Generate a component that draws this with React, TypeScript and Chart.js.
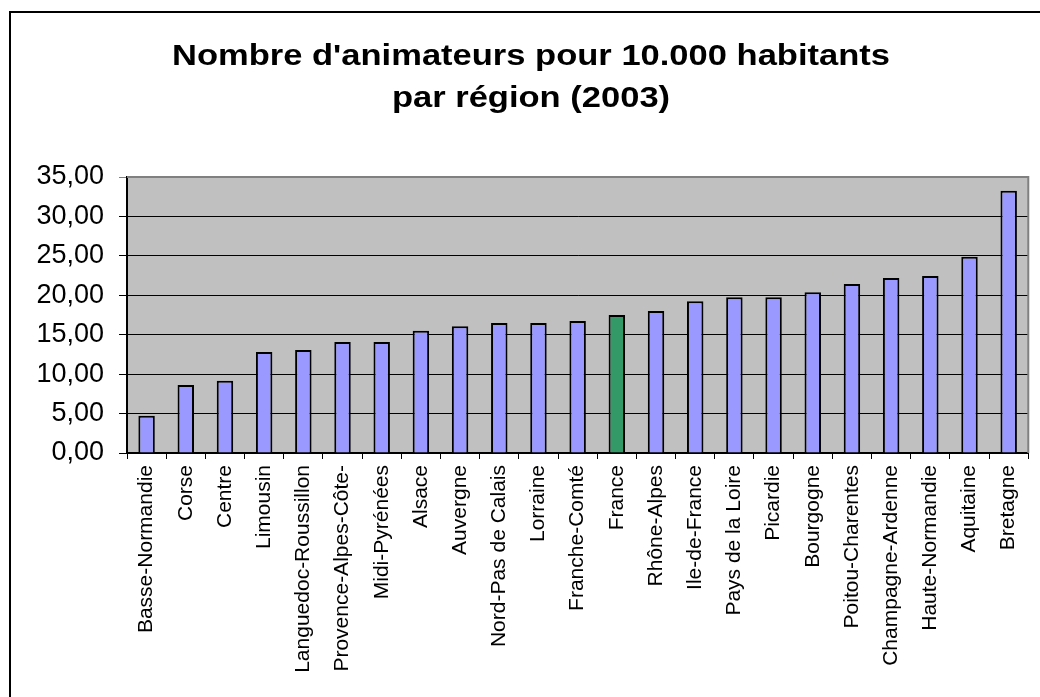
import React, { useEffect, useRef } from "react";
import { Chart, registerables } from "chart.js";

Chart.register(...registerables);

const titleLines = ["Nombre d'animateurs pour 10.000 habitants", "par région (2003)"];

const regions = [
  "Basse-Normandie",
  "Corse",
  "Centre",
  "Limousin",
  "Languedoc-Roussillon",
  "Provence-Alpes-Côte-",
  "Midi-Pyrénées",
  "Alsace",
  "Auvergne",
  "Nord-Pas de Calais",
  "Lorraine",
  "Franche-Comté",
  "France",
  "Rhône-Alpes",
  "Ile-de-France",
  "Pays de la Loire",
  "Picardie",
  "Bourgogne",
  "Poitou-Charentes",
  "Champagne-Ardenne",
  "Haute-Normandie",
  "Aquitaine",
  "Bretagne",
];

const values = [
  4.73, 8.62, 9.17, 12.8, 13.06, 14.07, 14.07, 15.5, 16.06, 16.5, 16.5, 16.74,
  17.5, 18.0, 19.24, 19.74, 19.74, 20.4, 21.43, 22.19, 22.44, 24.9, 33.26,
];

const highlightRegion = "France";
const yMin = 0;
const yMax = 35;
const yStep = 5;

const FONT = "'Liberation Sans', Arial, sans-serif";

const framePlugin = {
  id: "frame",
  beforeDraw(chart: any) {
    const { ctx, chartArea, width, height } = chart;
    ctx.save();
    ctx.fillStyle = "#ffffff";
    ctx.fillRect(0, 0, width, height);
    ctx.fillStyle = "#000000";
    ctx.fillRect(9, 11, width - 9, 2);
    ctx.fillRect(9, 11, 2, height - 11);
    ctx.fillStyle = "#C0C0C0";
    ctx.fillRect(chartArea.left, chartArea.top, chartArea.right - chartArea.left, chartArea.bottom - chartArea.top);
    ctx.restore();
  },
  afterDatasetsDraw(chart: any) {
    const { ctx, chartArea } = chart;
    ctx.save();
    ctx.strokeStyle = "#808080";
    ctx.lineWidth = 2;
    ctx.beginPath();
    ctx.moveTo(chartArea.left, chartArea.top);
    ctx.lineTo(chartArea.right, chartArea.top);
    ctx.lineTo(chartArea.right, chartArea.bottom);
    ctx.stroke();
    ctx.restore();
  },
  afterDraw(chart: any) {
    // Title: wide bold text (the original is horizontally stretched)
    const { ctx } = chart;
    ctx.save();
    ctx.fillStyle = "#000000";
    ctx.font = `bold 30px ${FONT}`;
    ctx.textAlign = "center";
    ctx.textBaseline = "alphabetic";
    const w0 = ctx.measureText(titleLines[0]).width;
    const sx = 718 / w0;
    const cx = 531;
    const baselines = [65, 107];
    titleLines.forEach((line, i) => {
      ctx.save();
      ctx.translate(cx, baselines[i]);
      ctx.scale(sx, 1);
      ctx.fillText(line, 0, 0);
      ctx.restore();
    });
    ctx.restore();
  },
};

export default function App() {
  const ref = useRef<HTMLCanvasElement | null>(null);

  useEffect(() => {
    if (!ref.current) return;
    const chart = new Chart(ref.current, {
      type: "bar",
      data: {
        labels: regions,
        datasets: [
          {
            data: values,
            backgroundColor: regions.map((r) => (r === highlightRegion ? "#339966" : "#9999FF")),
            borderColor: "#000000",
            borderWidth: 2,
            barPercentage: 0.42,
            categoryPercentage: 1,
          },
        ],
      },
      options: {
        responsive: false,
        animation: false,
        layout: { padding: { left: 0, right: 5, top: 177, bottom: 0 } },
        plugins: {
          legend: { display: false },
          tooltip: { enabled: false },
          title: { display: false },
        },
        scales: {
          x: {
            grid: {
              display: true,
              drawOnChartArea: false,
              drawTicks: true,
              tickLength: 6,
              color: "#000000",
              offset: true,
            },
            border: { display: true, color: "#000000", width: 2 },
            ticks: {
              autoSkip: false,
              maxRotation: 90,
              minRotation: 90,
              color: "#000000",
              padding: 6,
              font: { family: FONT, size: 21 },
            },
            afterFit(scale: any) {
              scale.height = 244;
            },
          },
          y: {
            min: yMin,
            max: yMax,
            grid: {
              color: (c: any) => (c.tick && c.tick.value === yMax ? "#808080" : "#000000"),
              tickLength: 8,
              lineWidth: 1,
            },
            border: { display: true, color: "#000000", width: 2 },
            ticks: {
              stepSize: yStep,
              color: "#000000",
              padding: 15,
              font: { family: FONT, size: 27 },
              callback: (v: any) => Number(v).toFixed(2).replace(".", ","),
            },
            afterFit(scale: any) {
              scale.width = 127;
            },
          },
        },
      },
      plugins: [framePlugin],
    });
    return () => chart.destroy();
  }, []);

  return (
    <div style={{ position: "absolute", left: 0, top: 0, width: 1040, height: 697, overflow: "hidden" }}>
      <canvas ref={ref} width={1040} height={697} style={{ display: "block" }} />
    </div>
  );
}
